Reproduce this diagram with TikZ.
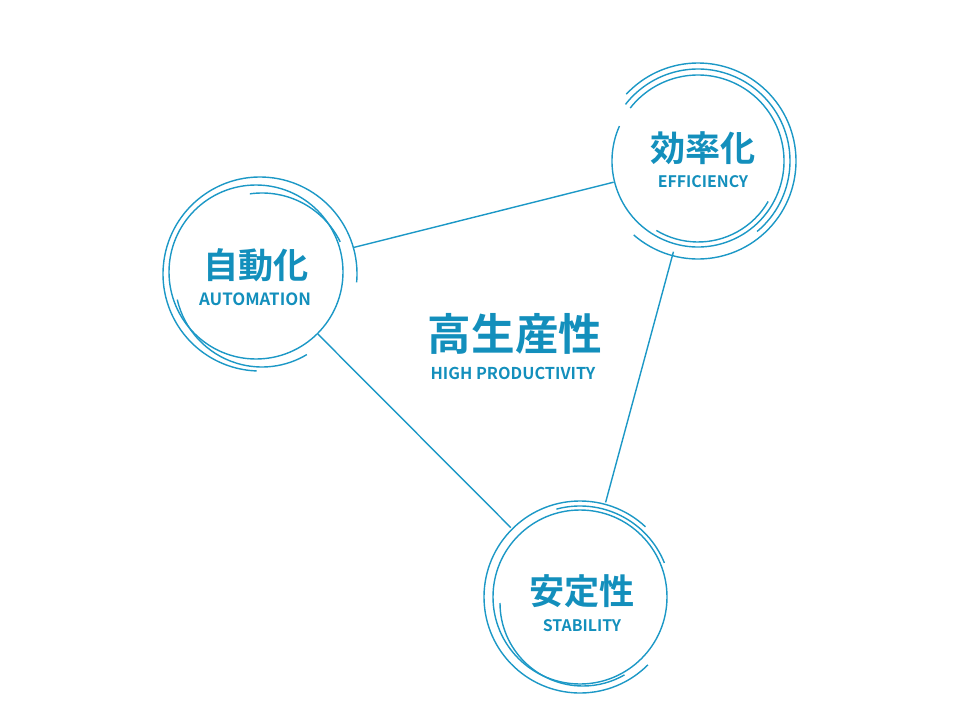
\documentclass[tikz,border=0pt]{standalone}
\usepackage{fontspec}
\newfontfamily\jp{Noto Sans CJK JP Bold}
\usetikzlibrary{calc}
\definecolor{ringblue}{HTML}{1C98C6}
\definecolor{textblue}{HTML}{138FBC}
\newcommand\arcat[5]{\draw ($(#1)+(#2)+(#3:#5*\u)$) arc[start angle=#3, end angle=#4, radius=#5*\u];}

\begin{document}
\begin{tikzpicture}[inner sep=0pt, line width=1pt, ringblue]
\def\u{0.025cm}
\tikzset{
  ring/.style={circle, minimum size=#1, outer sep=0pt},
  kanji/.style={textblue, font=\jp\fontsize{25}{25}\selectfont},
  latin/.style={textblue, font=\jp\fontsize{11.3}{12}\selectfont},
}
\useasboundingbox (0,0) rectangle (960*\u, 700*\u);

% three circles
\node[ring=174*\u, draw] (auto) at (256*\u, 428*\u) {};
\node[ring=172*\u] (effi) at (698*\u, 539*\u) {};
\node[ring=174*\u, draw] (stab) at (580*\u, 103*\u) {};

% swirl lines round them
\arcat{auto}{4*\u,-2*\u}{-5}{268}{97}
\arcat{auto}{6*\u,-8*\u}{26}{98}{87}
\arcat{auto}{6*\u,-8*\u}{193}{301}{87}

\arcat{effi}{0,0}{156}{502}{86}
\arcat{effi}{0,0}{229}{497}{98}
\arcat{effi}{0,0}{-50}{142}{92}
\arcat{effi}{0,0}{239}{330}{81}

\arcat{stab}{0,0}{47}{315}{96}
\arcat{stab}{0,0}{22}{105}{91}
\arcat{stab}{3*\u,-6*\u}{180}{300}{83}

% links
\draw[shorten <=13*\u, shorten >=1*\u] (auto) -- (effi);
\draw[shorten <=8*\u, shorten >=11*\u] (effi) -- (stab);
\draw[shorten <=1*\u, shorten >=11*\u] (auto) -- (stab);

% labels
\node[kanji] (autoj) at (256*\u, 435*\u) {自動化};
\node[latin, font=\jp\fontsize{12}{12}\selectfont] (autoe) at (255*\u, 401*\u) {AUTOMATION};
\node[kanji] (effij) at (703*\u, 552*\u) {効率化};
\node[latin] (effie) at (703*\u, 518*\u) {EFFICIENCY};
\node[kanji] (stabj) at (582*\u, 109*\u) {安定性};
\node[latin] (stabe) at (582*\u, 74*\u) {STABILITY};
\node[kanji, font=\jp\fontsize{31}{31}\selectfont] (highj) at (515*\u, 366*\u) {高生産性};
\node[latin, font=\jp\fontsize{11.6}{12}\selectfont] (highe) at (513*\u, 327*\u) {HIGH PRODUCTIVITY};
\end{tikzpicture}
\end{document}
